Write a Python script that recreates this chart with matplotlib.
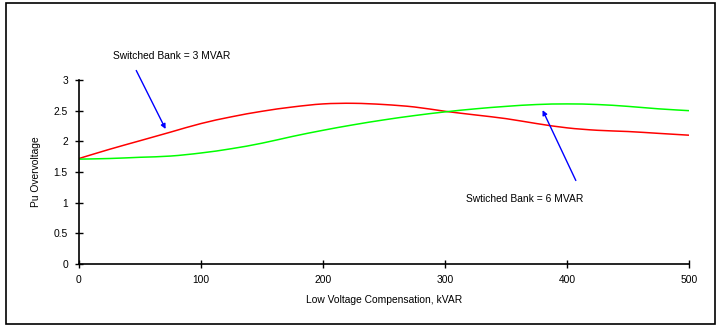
import matplotlib
matplotlib.use("Agg")
import matplotlib.pyplot as plt
import numpy as np
from matplotlib.patches import Rectangle, PathPatch
from matplotlib.path import Path

# Low voltage compensation (kVAR) and per-unit overvoltage
kvar = [0, 25, 50, 75, 100, 125, 150, 175, 200, 225, 250,
        275, 300, 325, 350, 375, 400, 425, 450, 475, 500]
bank_3mvar = [1.72, 1.87, 2.01, 2.15, 2.29, 2.40, 2.49, 2.56, 2.61, 2.62, 2.60,
              2.56, 2.49, 2.43, 2.37, 2.29, 2.22, 2.18, 2.16, 2.13, 2.10]
bank_6mvar = [1.71, 1.72, 1.74, 1.76, 1.81, 1.88, 1.97, 2.08, 2.18, 2.27, 2.35,
              2.42, 2.48, 2.53, 2.57, 2.60, 2.61, 2.60, 2.57, 2.53, 2.50]

W, H = 719, 327
plt.rcParams["font.family"] = ["Liberation Sans", "DejaVu Sans"]
fs = 7.4
fig = plt.figure(figsize=(W / 100, H / 100), dpi=100)


def px(x, y):
    # pixel position in the picture -> figure fraction
    return (x / W, 1 - y / H)


def smooth_path(xs, ys):
    # Excel-style "smoothed line": cubic Bezier through the points
    xs, ys = np.asarray(xs, float), np.asarray(ys, float)
    verts, codes = [(xs[0], ys[0])], [Path.MOVETO]
    n = len(xs)
    for i in range(n - 1):
        x0, y0 = (xs[i - 1], ys[i - 1]) if i > 0 else (xs[i], ys[i])
        x3, y3 = (xs[i + 2], ys[i + 2]) if i + 2 < n else (xs[i + 1], ys[i + 1])
        c1 = (xs[i] + (xs[i + 1] - x0) / 6, ys[i] + (ys[i + 1] - y0) / 6)
        c2 = (xs[i + 1] - (x3 - xs[i]) / 6, ys[i + 1] - (y3 - ys[i]) / 6)
        verts += [c1, c2, (xs[i + 1], ys[i + 1])]
        codes += [Path.CURVE4] * 3
    return Path(verts, codes)


# outer frame
fig.patches.append(Rectangle((6 / W, 1 - 324 / H), 709 / W, 321 / H,
                             transform=fig.transFigure, fill=False,
                             edgecolor="black", linewidth=1.2))

ax = fig.add_axes([79 / W, 63 / H, 610 / W, 184 / H])
ax.add_patch(PathPatch(smooth_path(kvar, bank_3mvar), fill=False,
                       edgecolor="#ff0000", linewidth=1.1))
ax.add_patch(PathPatch(smooth_path(kvar, bank_6mvar), fill=False,
                       edgecolor="#00ff00", linewidth=1.1))

ax.set_xlim(0, 500)
ax.set_ylim(0, 3)
ax.set_xticks([0, 100, 200, 300, 400, 500])
ax.set_yticks([0, 0.5, 1, 1.5, 2, 2.5, 3])
ax.set_yticklabels(["0", "0.5", "1", "1.5", "2", "2.5", "3"])
ax.tick_params(direction="inout", length=6, width=1, labelsize=fs, pad=5)
for s in ("top", "right"):
    ax.spines[s].set_visible(False)
for s in ("left", "bottom"):
    ax.spines[s].set_linewidth(1.2)

ax.set_xlabel("Low Voltage Compensation, kVAR", fontsize=fs, labelpad=7)
ax.set_ylabel("Pu Overvoltage", fontsize=fs, labelpad=9)

arrow = dict(arrowstyle="-|>", color="#0000ff", lw=1, mutation_scale=7)
fig.text(*px(172, 56), "Switched Bank = 3 MVAR", fontsize=fs, ha="center", va="center")
fig.text(*px(525, 199), "Swtiched Bank = 6 MVAR", fontsize=fs, ha="center", va="center")
ax.annotate("", xy=(72, 2.16), xytext=px(135, 68), textcoords="figure fraction",
            arrowprops=arrow, annotation_clip=False)
ax.annotate("", xy=(379, 2.55), xytext=px(577, 183), textcoords="figure fraction",
            arrowprops=arrow, annotation_clip=False)

fig.savefig("out.png", dpi=100)
